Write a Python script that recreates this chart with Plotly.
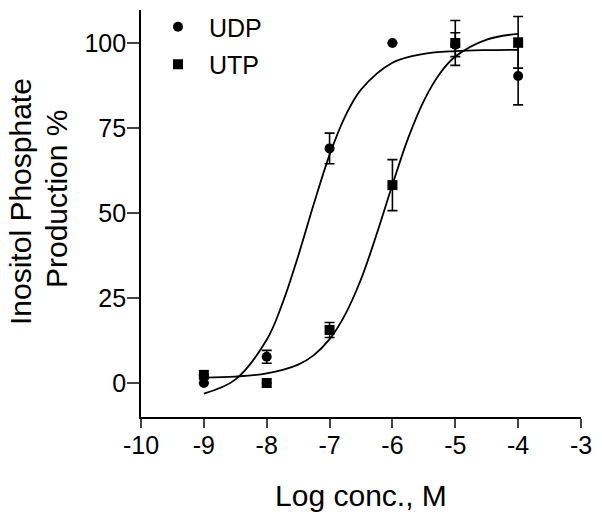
import plotly.graph_objects as go

# Measured data points (log concentration, % production, SEM)
udp_x = [-9, -8, -7, -6, -5, -4]
udp_y = [0.0, 7.7, 69.0, 100.0, 99.5, 90.3]
udp_err = [0.0, 1.9, 4.5, 0.0, 3.5, 8.5]

utp_x = [-9, -8, -7, -6, -5, -4]
utp_y = [2.4, 0.0, 15.6, 58.2, 100.0, 100.2]
utp_err = [0.0, 0.0, 2.2, 7.5, 6.6, 7.6]

udp_fit_x = [-9, -8.5, -8, -7.75, -7.5, -7.25, -7, -6.75, -6.5, -6, -5.5, -5, -4.5, -4]
udp_fit_y = [-3.1, 1.0, 12.7, 23.4, 37.3, 52.7, 67.1, 78.5, 86.3, 94.2, 96.8, 97.6, 97.9, 98.0]

utp_fit_x = [-9, -8.5, -8, -7.5, -7.25, -7, -6.75, -6.5, -6.25, -6, -5.75, -5.5, -5.25, -5, -4.5, -4]
utp_fit_y = [1.6, 1.9, 2.8, 5.4, 8.2, 12.9, 20.2, 30.5, 43.8, 58.3, 72.0, 83.0, 90.9, 96.0, 101.0, 102.7]

x_ticks = [-10, -9, -8, -7, -6, -5, -4, -3]
x_tick_labels = ["-10", "-9", "-8", "-7", "-6", "-5", "-4", "-3"]
y_ticks = [0, 25, 50, 75, 100]
y_tick_labels = ["0", "25", "50", "75", "100"]

FONT = "Liberation Sans, Arial, sans-serif"

W, H = 602, 521
L, R, T, B = 141, 21, 10, 104
PW, PH = W - L - R, H - T - B


def px_x(p):
    return (p - L) / PW


def px_y(p):
    return (H - B - p) / PH


fig = go.Figure()

fig.add_trace(go.Scatter(x=udp_fit_x, y=udp_fit_y, mode="lines", line=dict(color="black", width=1.8, shape="spline"),
                         showlegend=False, hoverinfo="skip"))
fig.add_trace(go.Scatter(x=utp_fit_x, y=utp_fit_y, mode="lines", line=dict(color="black", width=1.8, shape="spline"),
                         showlegend=False, hoverinfo="skip"))

fig.add_trace(go.Scatter(x=udp_x, y=udp_y, mode="markers", name="UDP", legendgroup="a",
                         marker=dict(symbol="circle", size=10, color="black"),
                         error_y=dict(type="data", array=udp_err, color="black", thickness=1.6, width=5)))
fig.add_trace(go.Scatter(x=utp_x, y=utp_y, mode="markers", name="UTP", legendgroup="b",
                         marker=dict(symbol="square", size=10, color="black"),
                         error_y=dict(type="data", array=utp_err, color="black", thickness=1.6, width=5)))

fig.update_layout(
    width=W, height=H,
    margin=dict(l=L, r=R, t=T, b=B, autoexpand=False),
    paper_bgcolor="white", plot_bgcolor="white",
    font=dict(family=FONT, color="black", size=25),
    legend=dict(x=px_x(147), y=px_y(4), xanchor="left", yanchor="top", bgcolor="rgba(0,0,0,0)",
                font=dict(size=25), itemwidth=52, tracegroupgap=2, traceorder="grouped"),
    xaxis=dict(range=[-10, -3], tickvals=x_ticks, ticktext=x_tick_labels, ticks="outside", ticklen=9, tickwidth=1.6,
               showline=True, linewidth=1.8, linecolor="black", showgrid=False, zeroline=False,
               tickfont=dict(size=25), ticklabelstandoff=-4,
               title=dict(text="Log conc., M", font=dict(size=30), standoff=27)),
    yaxis=dict(range=[-10, 109.7], tickvals=y_ticks, ticktext=y_tick_labels, ticks="outside", ticklen=12, tickwidth=1.6,
               showline=True, linewidth=1.8, linecolor="black", showgrid=False, zeroline=False,
               tickfont=dict(size=25), ticklabelstandoff=-4),
    annotations=[
        dict(text="Inositol Phosphate", textangle=-90, xref="paper", yref="paper",
             x=px_x(20), y=px_y(201), xanchor="center", yanchor="middle",
             showarrow=False, font=dict(size=30)),
        dict(text="Production %", textangle=-90, xref="paper", yref="paper",
             x=px_x(56), y=px_y(199), xanchor="center", yanchor="middle",
             showarrow=False, font=dict(size=30)),
    ],
)

# remove the page's default body margin so the figure sits at the window's top-left corner
fig.write_html("out.html", config={"displayModeBar": False},
               post_script="document.body.style.margin='0';")
